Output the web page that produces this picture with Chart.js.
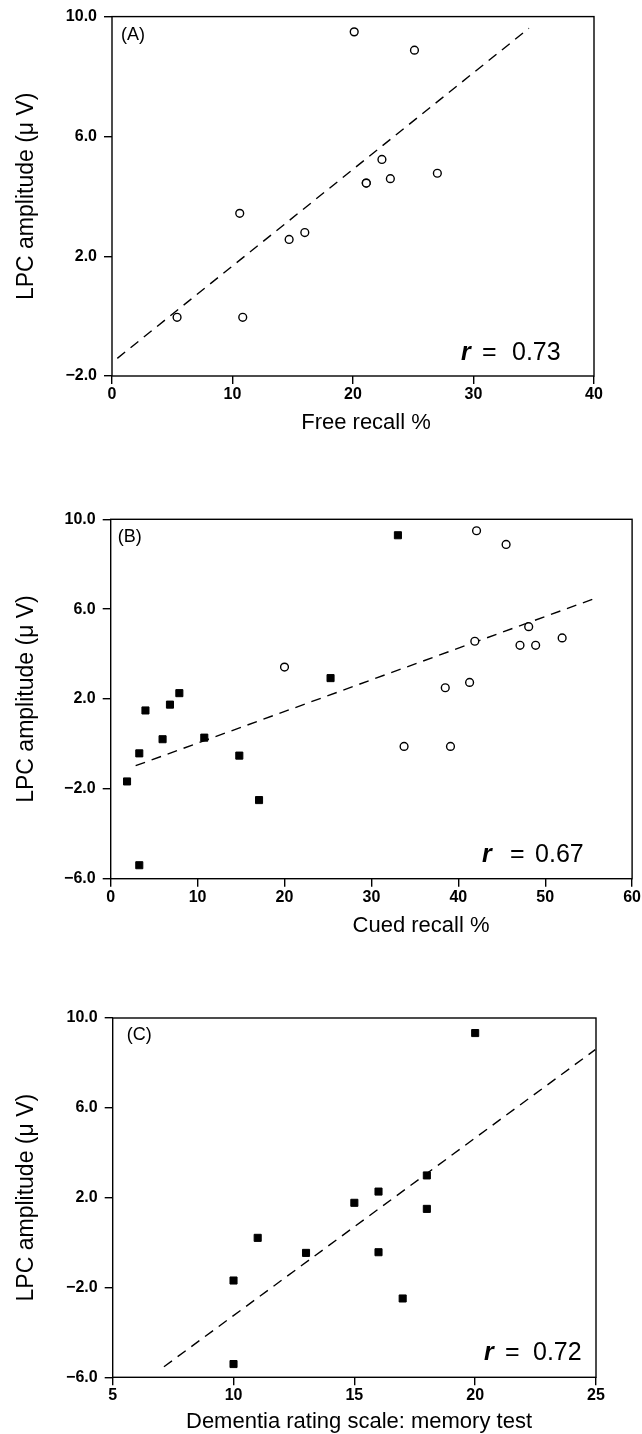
<!DOCTYPE html>
<html lang="en">
<head>
<meta charset="UTF-8">
<title>LPC amplitude vs memory scores</title>
<script src="https://cdn.jsdelivr.net/npm/chart.js"></script>
<style>
  body { margin: 0; background: #fff; }
  .panel { position: absolute; left: 0; }
</style>
</head>
<body>
<div class="panel" style="top:0px"><canvas id="chartA" width="642" height="440"></canvas></div>
<div class="panel" style="top:440px"><canvas id="chartB" width="642" height="505"></canvas></div>
<div class="panel" style="top:945px"><canvas id="chartC" width="642" height="489"></canvas></div>
<script>
// (A) free recall, open circles
const aRecall = [20.1, 25.1, 22.4, 21.1, 21.1, 23.1, 27.0, 10.6, 14.7, 16.0, 5.4, 10.85];
const aLpc    = [9.49, 8.88, 5.23, 4.44, 4.44, 4.59, 4.77, 3.43, 2.56, 2.79, -0.04, -0.04];
const aFitX = [0.44, 34.6];
const aFitY = [-1.41, 9.61];

// (B) cued recall, open circles and filled squares
const bOpenRecall = [42.1, 45.5, 48.1, 41.9, 47.1, 48.9, 51.95, 20.0, 38.5, 41.3, 33.76, 39.1];
const bOpenLpc    = [9.49, 8.88, 5.22, 4.57, 4.39, 4.39, 4.72, 3.42, 2.50, 2.74, -0.11, -0.11];
const bFilledRecall = [33.05, 25.3, 7.9, 6.82, 4.0, 5.97, 10.77, 3.29, 14.8, 1.88, 17.07, 3.29];
const bFilledLpc    = [9.29, 2.93, 2.26, 1.75, 1.49, 0.21, 0.28, -0.42, -0.52, -1.67, -2.5, -5.40];
const bFitX = [2.87, 55.6];
const bFitY = [-0.97, 6.46];

// (C) dementia rating scale, filled squares
const cDrs = [20, 18, 16, 15, 18, 11, 13, 16, 10, 17, 10];
const cLpc = [9.33, 2.99, 2.27, 1.77, 1.50, 0.21, -0.46, -0.43, -1.69, -2.49, -5.41];
const cFitX = [7.12, 24.97];
const cFitY = [-5.53, 8.59];

Chart.defaults.font.family = '"Liberation Sans", Arial, sans-serif';
Chart.defaults.color = '#000';

const pts = (xs, ys) => xs.map((x, i) => ({ x: x, y: ys[i] }));
const fmt = v => (v < 0 ? '\u2212' + Math.abs(v).toFixed(1) : v.toFixed(1));

// frame box, panel letter, r value and x axis title
const annot = {
    id: 'annot',
    afterDraw(chart, args, o) {
        const ctx = chart.ctx, a = chart.chartArea;
        ctx.save();
        ctx.strokeStyle = '#000';
        ctx.lineWidth = 1.4;
        ctx.strokeRect(a.left, a.top, a.right - a.left, a.bottom - a.top);
        ctx.fillStyle = '#000';
        ctx.textBaseline = 'top';
        ctx.font = '18px "Liberation Sans"';
        ctx.fillText(o.panel, a.left + o.panelDx, a.top + o.panelDy);
        ctx.textBaseline = 'alphabetic';
        const base = a.bottom - o.rBase;
        ctx.font = 'italic bold 25px "Liberation Sans"';
        ctx.fillText('r', a.right - o.rX[0], base);
        ctx.font = '25px "Liberation Sans"';
        ctx.fillText('=', a.right - o.rX[1], base);
        ctx.fillText(o.rText, a.right - o.rX[2], base);
        ctx.font = '22px "Liberation Sans"';
        ctx.textAlign = 'center';
        ctx.fillText(o.xTitle, o.xTitleX, o.xTitleY);
        ctx.restore();
    }
};

function makePanel(id, p) {
    const datasets = [];
    if (p.open) datasets.push({
        data: p.open, pointStyle: 'circle', pointRadius: 3.9,
        pointBorderWidth: 1.4, borderColor: '#000', backgroundColor: '#fff'
    });
    if (p.filled) datasets.push({
        data: p.filled, pointStyle: 'rect', pointRadius: 5,
        pointBorderWidth: 1, borderColor: '#000', backgroundColor: '#000'
    });
    datasets.push({
        data: p.fit, showLine: true, pointRadius: 0, borderColor: '#000',
        borderWidth: 1.4, borderDash: [10, 7], fill: false
    });

    new Chart(document.getElementById(id), {
        type: 'scatter',
        data: { datasets: datasets },
        plugins: [annot],
        options: {
            responsive: false,
            animation: false,
            layout: { padding: { top: p.top, right: 642 - p.right, left: 0, bottom: 0 } },
            plugins: {
                legend: { display: false },
                tooltip: { enabled: false },
                annot: p.annot
            },
            scales: {
                x: {
                    min: p.xMin, max: p.xMax,
                    border: { display: false },
                    grid: { drawOnChartArea: false, tickLength: 8, color: '#000', lineWidth: 1.4 },
                    ticks: { stepSize: p.xStep, padding: 1, font: { size: 16, weight: 'bold' } },
                    afterFit: s => { s.height = p.height - p.bottom; }
                },
                y: {
                    min: p.yMin, max: 10,
                    border: { display: false },
                    grid: { drawOnChartArea: false, tickLength: 8, color: '#000', lineWidth: 1.4 },
                    ticks: { stepSize: 4, padding: 7, font: { size: 16, weight: 'bold' }, callback: fmt },
                    title: { display: true, text: 'LPC amplitude (\u03bc V)', font: { size: 23 }, padding: { top: 13 } },
                    afterFit: s => { s.width = p.left; }
                }
            }
        }
    });
}

makePanel('chartA', {
    open: pts(aRecall, aLpc), fit: pts(aFitX, aFitY),
    xMin: 0, xMax: 40, xStep: 10, yMin: -2,
    height: 440, top: 16, bottom: 376, left: 112, right: 594,
    annot: { panel: '(A)', panelDx: 9, panelDy: 9, rText: '0.73', rX: [133, 112, 82], rBase: 16,
             xTitle: 'Free recall %', xTitleX: 366, xTitleY: 429 }
});

makePanel('chartB', {
    open: pts(bOpenRecall, bOpenLpc), filled: pts(bFilledRecall, bFilledLpc), fit: pts(bFitX, bFitY),
    xMin: 0, xMax: 60, xStep: 10, yMin: -6,
    height: 505, top: 79.3, bottom: 438.7, left: 110.7, right: 632.7,
    annot: { panel: '(B)', panelDx: 7, panelDy: 9, rText: '0.67', rX: [150, 122, 97], rBase: 16.4,
             xTitle: 'Cued recall %', xTitleX: 421, xTitleY: 491.7 }
});

makePanel('chartC', {
    filled: pts(cDrs, cLpc), fit: pts(cFitX, cFitY),
    xMin: 5, xMax: 25, xStep: 5, yMin: -6,
    height: 489, top: 73, bottom: 432.3, left: 112.7, right: 596,
    annot: { panel: '(C)', panelDx: 14, panelDy: 8, rText: '0.72', rX: [112, 91, 63], rBase: 17.8,
             xTitle: 'Dementia rating scale: memory test', xTitleX: 359, xTitleY: 483 }
});
</script>
</body>
</html>
